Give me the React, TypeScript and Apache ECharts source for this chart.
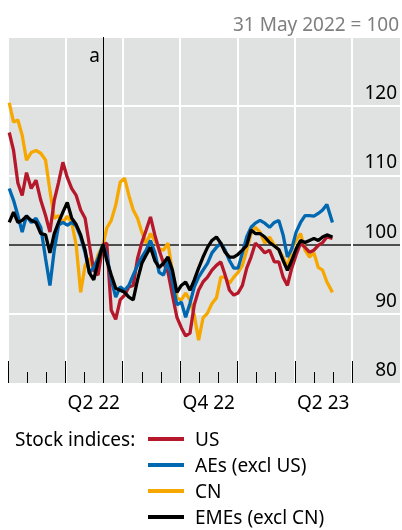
import React, { useEffect, useRef } from "react";
import * as echarts from "echarts";

const DATES = ['2022-01-03','2022-01-10','2022-01-17','2022-01-24','2022-01-31','2022-02-07','2022-02-14','2022-02-21','2022-02-28','2022-03-07','2022-03-14','2022-03-21','2022-03-28','2022-04-04','2022-04-11','2022-04-18','2022-04-25','2022-05-02','2022-05-09','2022-05-16','2022-05-23','2022-05-31','2022-06-06','2022-06-13','2022-06-20','2022-06-27','2022-07-04','2022-07-11','2022-07-18','2022-07-25','2022-08-01','2022-08-08','2022-08-15','2022-08-22','2022-08-29','2022-09-05','2022-09-12','2022-09-19','2022-09-26','2022-10-03','2022-10-10','2022-10-17','2022-10-24','2022-10-31','2022-11-07','2022-11-14','2022-11-21','2022-11-28','2022-12-05','2022-12-12','2022-12-19','2022-12-26','2023-01-02','2023-01-09','2023-01-16','2023-01-23','2023-01-30','2023-02-06','2023-02-13','2023-02-20','2023-02-27','2023-03-06','2023-03-13','2023-03-20','2023-03-27','2023-04-03','2023-04-10','2023-04-17','2023-04-24','2023-05-01','2023-05-08','2023-05-15','2023-05-22','2023-05-31'];

const US = [116.2,113.6,108.9,107.1,110.4,108.1,109.3,106.4,104.2,101.8,106.4,109.0,111.9,109.7,108.1,107.1,105.0,103.8,99.9,96.3,95.6,100,100.2,90.5,89.2,92.0,92.7,93.9,94.1,98.0,100.3,102.1,104.0,101.4,99.2,97.3,96.0,92.7,89.5,88.0,86.8,87.2,91.3,93.4,94.6,95.3,96.3,97.0,97.5,95.6,93.4,92.7,93.0,94.1,96.6,98.2,100.2,99.6,98.8,99.2,97.5,97.5,95.3,94.1,96.6,98.5,100.2,99.6,98.9,99.2,99.9,100.3,101.1,100.9];
const AES = [108.1,106.4,104.2,101.8,104.2,103.2,103.8,102.5,98.0,94.1,99.2,102.8,103.2,102.8,103.2,102.7,101.1,98.8,95.9,96.7,98.0,100,98.5,94.9,92.4,93.9,93.4,94.1,95.6,97.0,98.2,99.2,100.6,98.9,96.0,95.6,97.7,94.6,91.3,91.7,89.5,91.5,93.9,95.3,96.3,97.3,98.8,99.6,100.2,99.2,97.7,96.6,96.6,98.8,101.1,102.5,103.1,103.5,103.1,102.5,103.2,103.5,101.4,98.2,99.4,101.8,103.2,104.2,104.2,104.1,104.5,105.0,105.8,103.2];
const CN = [120.5,117.7,118.0,115.8,112.2,113.3,113.6,113.2,112.2,107.8,103.8,104.2,103.2,104.1,103.2,99.9,93.1,97.0,98.0,96.3,98.5,100,102.4,103.5,105.7,109.0,109.6,107.1,105.0,103.8,101.8,100.2,101.6,100.6,99.4,99.2,100.2,96.0,92.3,92.0,93.0,92.0,89.8,86.2,89.4,90.1,91.5,92.3,95.3,95.3,94.4,95.3,96.0,97.0,99.2,101.6,102.5,101.8,100.2,101.1,99.9,99.2,98.2,96.7,99.4,100.6,101.6,99.2,98.2,98.8,96.7,96.3,94.6,93.1];
const EMES = [103.2,104.7,103.2,103.5,104.1,103.5,103.2,101.6,101.4,98.8,101.6,103.2,104.7,106.1,103.8,102.9,101.4,99.2,95.9,94.9,97.5,100,97.7,95.6,93.7,93.4,93.1,92.4,92.0,94.9,97.3,98.5,99.6,97.7,96.7,97.3,98.2,96.3,93.1,94.1,94.6,93.4,94.9,96.6,98.2,99.6,100.6,101.1,100.2,98.9,98.2,98.2,98.6,99.2,99.9,102.1,101.6,101.6,101.1,100.3,99.8,99.3,97.7,96.3,97.7,99.4,100.6,100.3,100.6,100.9,100.6,101.1,101.4,101.1];

const SERIES_NAMES = ['US', 'AEs (excl US)', 'CN', 'EMEs (excl CN)'];
const SERIES_COLORS = ['#B5182B', '#0067B1', '#F6A800', '#000000'];
const BASE_DATE = '2022-05-31';
const X_START = '2022-01-01';
const X_LABELS = ['Q2 22', 'Q4 22', 'Q2 23'];
const X_LABEL_DATES = ['2022-05-16', '2022-11-16', '2023-05-16'];
const QUARTER_TICK_DATES = ['2022-01-01','2022-04-01','2022-07-01','2022-10-01','2023-01-01','2023-04-01','2023-07-01'];
const MONTH_TICK_DATES = ['2022-02-01','2022-03-01','2022-05-01','2022-06-01','2022-08-01','2022-09-01','2022-11-01','2022-12-01','2023-02-01','2023-03-01','2023-05-01','2023-06-01'];
const Y_MIN = 80, Y_MAX = 130, Y_STEP = 10;
const X_MAX_MONTHS = 20.5;
const NOTE = '31 May 2022 = 100';
const LEGEND_PREFIX = 'Stock indices:';

function toMonths(s: string): number {
  const [y, m, d] = s.split('-').map(Number);
  const dim = new Date(y, m, 0).getDate();
  const [y0, m0] = X_START.split('-').map(Number);
  return (y - y0) * 12 + (m - m0) + (d - 1) / dim;
}

const FONT = '"Noto Sans", sans-serif';

export default function App() {
  const ref = useRef<HTMLDivElement>(null);
  useEffect(() => {
    if (!ref.current) return;
    const chart = echarts.init(ref.current, null, { renderer: 'svg' });
    const values = [US, AES, CN, EMES];
    const zs = [3, 4, 2, 5];
    const baseX = toMonths(BASE_DATE);
    const labelMap: Record<string, string> = {};
    X_LABEL_DATES.forEach((d, i) => { labelMap[toMonths(d).toFixed(4)] = X_LABELS[i]; });

    const series: any[] = SERIES_NAMES.map((name, i) => ({
      name,
      type: 'line',
      xAxisIndex: 0,
      yAxisIndex: 0,
      z: zs[i],
      showSymbol: false,
      symbol: 'none',
      color: SERIES_COLORS[i],
      lineStyle: { width: 3.3, color: SERIES_COLORS[i] },
      data: DATES.map((d, j) => [toMonths(d), values[i][j]]),
    }));
    series[2].markLine = {
      silent: true,
      symbol: ['none', 'none'],
      label: { show: false },
      lineStyle: { color: '#000', width: 1, type: 'solid' },
      data: [{ xAxis: baseX }],
    };
    series[2].markPoint = {
      silent: true,
      symbol: 'circle',
      symbolSize: 0,
      label: {
        show: true, formatter: 'a', position: 'left', distance: 3, offset: [0, 18],
        fontSize: 19, color: '#000', fontFamily: FONT,
      },
      data: [{ coord: [baseX, Y_MAX] }],
    };

    const yTicks: number[] = [];
    for (let v = Y_MIN; v <= Y_MAX; v += Y_STEP) yTicks.push(v);
    const splitColors = yTicks.map(v => v === Y_MIN ? 'rgba(0,0,0,0)' : v === 100 ? '#4d4d4d' : '#ffffff');

    const legends = SERIES_NAMES.map((name, i) => ({
      orient: 'horizontal',
      left: 148,
      top: 428 + i * 26,
      padding: 0,
      itemWidth: 36,
      itemHeight: 4,
      icon: 'rect',
      selectedMode: false,
      data: [name],
      textStyle: { fontSize: 19, color: '#000', fontFamily: FONT, lineHeight: 22, padding: [0, 0, 0, 6] },
    }));

    chart.setOption({
      animation: false,
      textStyle: { fontFamily: FONT },
      title: [
        { text: NOTE, right: 3, top: 13, textStyle: { fontSize: 19, fontWeight: 'normal', color: '#7f7f7f', fontFamily: FONT, lineHeight: 22 }, padding: 0 },
        { text: LEGEND_PREFIX, left: 15, top: 428, textStyle: { fontSize: 19, fontWeight: 'normal', color: '#000', fontFamily: FONT, lineHeight: 22 }, padding: 0 },
      ],
      legend: legends,
      grid: {
        left: 8, right: 2, top: 37, bottom: 147,
        show: true, backgroundColor: '#e0e1e1', borderWidth: 0,
      },
      xAxis: [
        {
          type: 'value', position: 'bottom', min: 0, max: X_MAX_MONTHS, interval: 3,
          axisLine: { show: false },
          axisTick: { show: true, inside: true, length: 22, lineStyle: { color: '#000', width: 1 }, customValues: QUARTER_TICK_DATES.map(toMonths) },
          axisLabel: {
            show: true, customValues: X_LABEL_DATES.map(toMonths),
            formatter: (v: number) => labelMap[v.toFixed(4)] || '',
            fontSize: 19, color: '#000', margin: 8, lineHeight: 22, fontFamily: FONT,
          },
          splitLine: { show: true, lineStyle: { color: '#ffffff', width: 2 } },
        },
        {
          type: 'value', position: 'bottom', min: 0, max: X_MAX_MONTHS, interval: 3,
          axisLine: { show: false },
          axisTick: { show: true, inside: true, length: 11, lineStyle: { color: '#000', width: 1 }, customValues: MONTH_TICK_DATES.map(toMonths) },
          axisLabel: { show: false },
          splitLine: { show: false },
        },
      ],
      yAxis: {
        type: 'value', position: 'right', min: Y_MIN, max: Y_MAX, interval: Y_STEP,
        axisLine: { show: false },
        axisTick: { show: false },
        axisLabel: {
          inside: true, margin: 3, verticalAlign: 'bottom', fontSize: 19, color: '#000', lineHeight: 22,
          padding: [0, 0, 3, 0], fontFamily: FONT,
          formatter: (v: number) => (v === Y_MAX ? '' : String(v)),
        },
        splitLine: { show: true, lineStyle: { color: splitColors, width: 2 } },
      },
      series,
    });
    return () => chart.dispose();
  }, []);
  return <div ref={ref} style={{ position: 'fixed', left: 0, top: 0, width: 402, height: 530 }} />;
}
